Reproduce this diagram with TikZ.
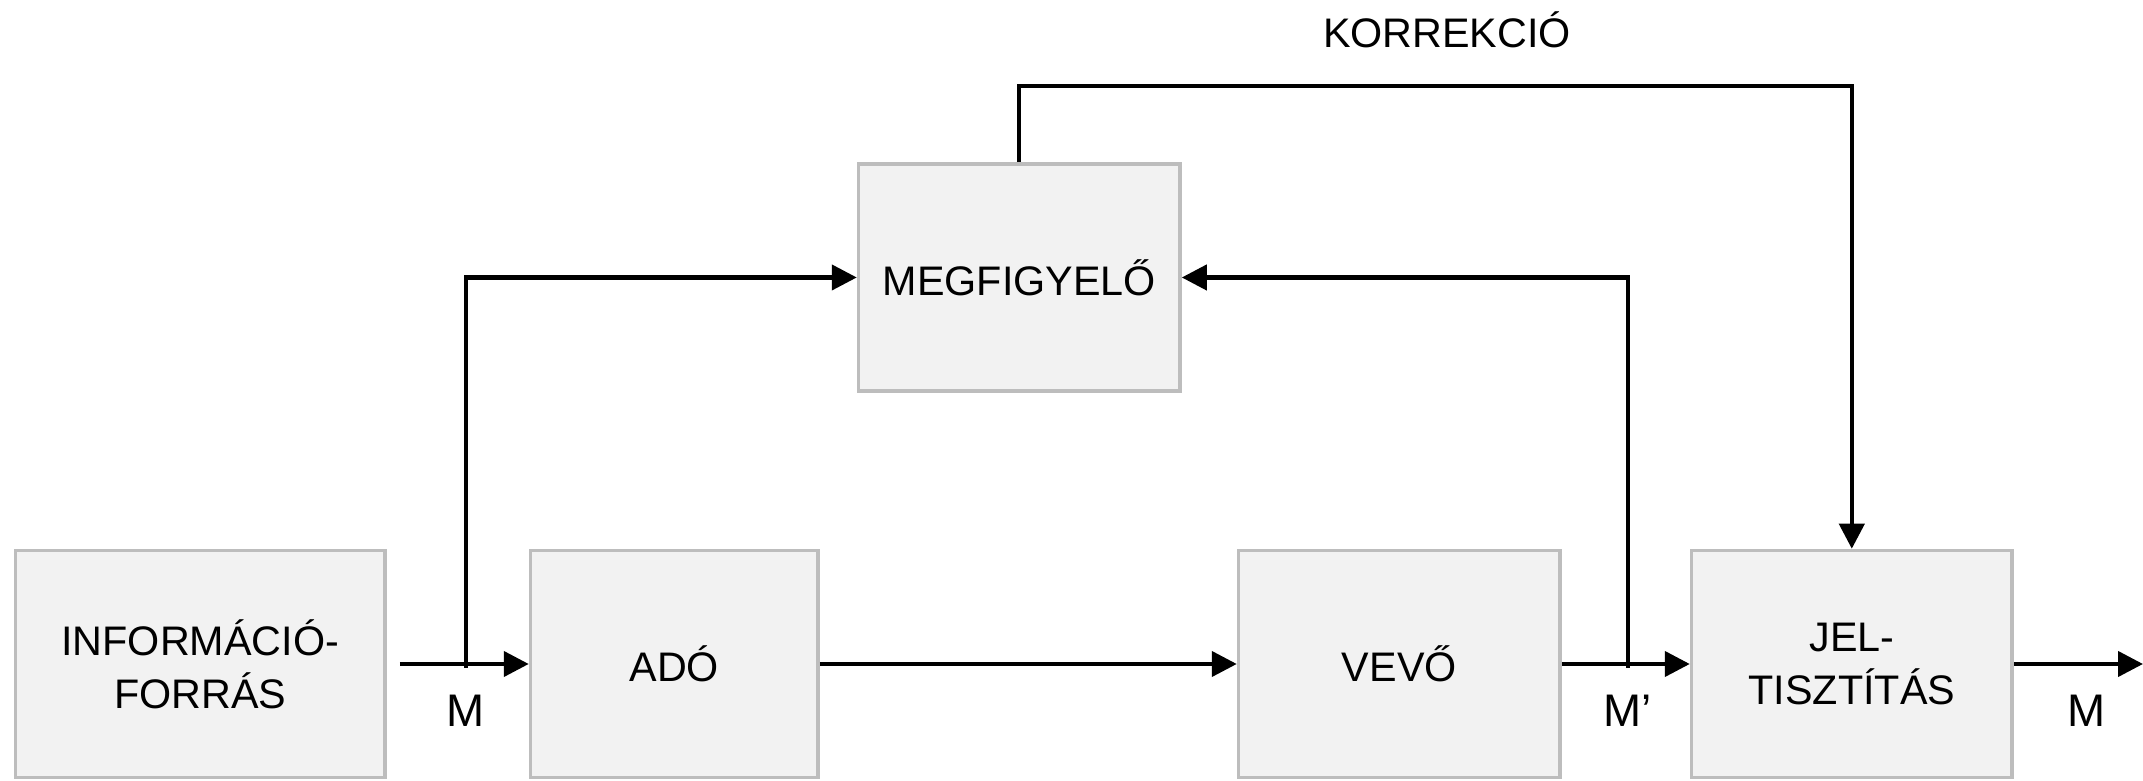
\documentclass[tikz,border=0pt]{standalone}
\usepackage{fontspec}
\setmainfont{Liberation Sans}
\usetikzlibrary{arrows.meta, positioning}

\definecolor{boxgray}{HTML}{BDBDBD}
\definecolor{boxfill}{HTML}{F2F2F2}

\begin{document}
\begin{tikzpicture}[
        blk/.style={rectangle, draw=boxgray, fill=boxfill, line width=2pt, align=center, minimum height=4.54cm, font=\fontsize{23.5}{30}\selectfont},
        arr/.style={-{Triangle[length=0.5cm, width=0.5cm]}, line width=2.4pt},
        sig/.style={font=\fontsize{26}{30}\selectfont}
    ]
    \useasboundingbox (0,0) rectangle (42.86,15.62);

    \node[blk, minimum width=7.39cm] (info) at (4.005,2.34) {INFORMÁCIÓ-\\FORRÁS};
    \node[blk, minimum width=5.75cm, right=2.84cm of info] (ado) {ADÓ};
    \node[blk, minimum width=6.43cm, right=8.34cm of ado] (vevo) {VEVŐ};
    \node[blk, minimum width=6.41cm, right=2.56cm of vevo] (jel) {JEL-\\TISZTÍTÁS};
    \node[blk, minimum width=6.43cm, above right=3.12cm and 0.74cm of ado] (megf) {MEGFIGYELŐ};

    \coordinate[right=0.26cm of info.east] (srcM);
    \coordinate (tapM) at (9.32,2.26);
    \coordinate (tapMv) at (32.56,2.26);
    \coordinate (outM) at (42.86,2.34);

    \node[sig] (lblM) at (9.32,1.4) {M};
    \node[sig] (lblMv) at (32.56,1.4) {M’};
    \node[sig] (lblMout) at (41.74,1.4) {M};
    \node[font=\fontsize{23.5}{30}\selectfont] (korr) at (28.94,15.02) {KORREKCIÓ};

    \draw[arr] (srcM) -- (ado.west);
    \draw[arr] (tapM) |- (megf.west);
    \draw[arr] (ado.east) -- (vevo.west);
    \draw[arr] (vevo.east) -- (jel.west);
    \draw[arr] (tapMv) |- (megf.east);
    \draw[arr] (megf.north) -- ++(0,1.52) -| (jel.north);
    \draw[arr] (jel.east) -- (outM);

\end{tikzpicture}
\end{document}
